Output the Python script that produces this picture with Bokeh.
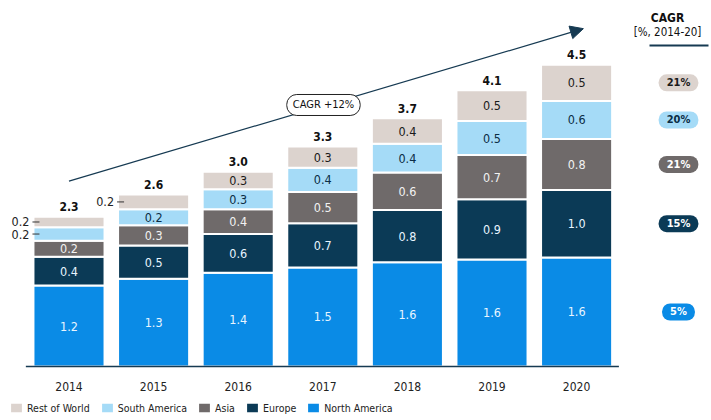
from bokeh.plotting import figure
from bokeh.models import (Range1d, Label, Arrow, NormalHead, Legend, LegendItem,
                          ColumnDataSource)
from bokeh.core.properties import value
from bokeh.embed import file_html
from bokeh.resources import INLINE

# ---------------- data ----------------
years = ["2014", "2015", "2016", "2017", "2018", "2019", "2020"]
north_america = [1.21, 1.31, 1.40, 1.48, 1.56, 1.60, 1.63]
europe = [0.43, 0.50, 0.58, 0.66, 0.78, 0.90, 1.01]
asia = [0.24, 0.30, 0.37, 0.47, 0.56, 0.66, 0.76]
south_america = [0.20, 0.24, 0.30, 0.36, 0.43, 0.51, 0.57]
rest_of_world = [0.16, 0.22, 0.26, 0.32, 0.38, 0.46, 0.54]
total_labels = ["2.3", "2.6", "3.0", "3.3", "3.7", "4.1", "4.5"]
series_names = ["North America", "Europe", "Asia", "South America", "Rest of World"]
cagr_labels = ["5%", "15%", "21%", "20%", "21%"]  # same order as series_names
overall_cagr = "CAGR +12%"

# ---------------- style ----------------
colors = ["#0a8be6", "#0b3a56", "#6f6a6a", "#a5dbf7", "#dcd3ce"]
inside_text = ["#e8f5ff", "#e8f5ff", "#f2f2f2", "#0b2d45", "#1a1a1a"]
pill_text = ["white", "white", "white", "#0b2d45", "#1a1a1a"]
NAVY = "#163a52"
FONTN = "DejaVu Sans Condensed, Liberation Sans, Arial, sans-serif"
FONT = value(FONTN)

PX_X, PX_Y = 84.6, 66.9          # pixels per data unit
OFF = 0                           # page offset of the figure
W, H = 711, 416
X0 = -(68.5 - OFF) / PX_X
Y_TOP = (366 - OFF) / PX_Y
BAR_W = 0.84
SMALL = 0.23                      # segments thinner than this get an outside label

def px_x(page_x):
    return X0 + (page_x - OFF) / PX_X

def px_y(page_y):
    return Y_TOP - (page_y - OFF) / PX_Y

p = figure(width=W, height=H, x_range=Range1d(X0, X0 + W / PX_X),
           y_range=Range1d(Y_TOP - H / PX_Y, Y_TOP),
           x_axis_type=None, y_axis_type=None,
           output_backend="svg", toolbar_location=None, min_border=0)
p.grid.visible = False
p.outline_line_color = None

keys = ["na", "eu", "as", "sa", "rw"]
series = [north_america, europe, asia, south_america, rest_of_world]
xs = list(range(len(years)))
src = ColumnDataSource(dict(x=xs, **{k: v for k, v in zip(keys, series)}))
rends = p.vbar_stack(keys, x="x", width=BAR_W, color=colors, source=src,
                     line_color="white", line_width=2)

# baseline
p.segment(x0=[-0.51], y0=[0], x1=[len(years) - 1 + 0.50], y1=[0],
          line_color=NAVY, line_width=1.5)

# segment labels
in_x, in_y, in_t, in_c = [], [], [], []
out_x, out_y, out_t = [], [], []
totals = []
for i in xs:
    bottom = 0.0
    for s, vals in enumerate(series):
        v = vals[i]
        mid = bottom + v / 2
        if v < SMALL:
            out_x.append(i - BAR_W / 2)
            out_y.append(mid)
            out_t.append(f"{v:.1f}")
        else:
            in_x.append(i)
            in_y.append(mid)
            in_t.append(f"{v:.1f}")
            in_c.append(inside_text[s])
        bottom += v
    totals.append(bottom)

p.text(x=in_x, y=in_y, text=in_t, text_color=in_c, text_font=FONT,
       text_font_size="12.5px", text_align="center", text_baseline="middle")
p.text(x=out_x, y=out_y, text=out_t, text_color="#222222", text_font=FONT,
       text_font_size="12.5px", text_align="right", text_baseline="middle", x_offset=-4)
p.segment(x0=[x - 1 / PX_X for x in out_x], y0=out_y,
          x1=[x + 6 / PX_X for x in out_x], y1=out_y,
          line_color="#333333", line_width=1)

# totals
p.text(x=xs, y=totals, text=total_labels, text_color="#111111", text_font=FONT,
       text_font_size="12px", text_font_style="bold", text_align="center",
       text_baseline="middle", y_offset=-10)

# years
p.text(x=xs, y=[px_y(386)] * len(xs), text=years, text_color="#222222", text_font=FONT,
       text_font_size="12px", text_align="center", text_baseline="middle")

# CAGR arrow
p.add_layout(Arrow(end=NormalHead(size=13, fill_color=NAVY, line_color=NAVY),
                   x_start=0.0, y_start=2.77, x_end=6.08, y_end=5.05,
                   line_color=NAVY, line_width=1.2))
p.add_layout(Label(x=3.008, y=3.909, text=overall_cagr, text_align="center",
                   text_baseline="middle", text_font=FONTN, text_font_size="11px",
                   text_color="#111111", background_fill_color="white",
                   border_line_color="#222222", border_line_width=1,
                   border_radius=10, padding=(6, 4)))

# CAGR column
p.add_layout(Label(x=px_x(667), y=px_y(17), text="CAGR", text_align="center",
                   text_baseline="middle", text_font=FONTN, text_font_size="12px",
                   text_font_style="bold", text_color="#111111"))
p.add_layout(Label(x=px_x(667), y=px_y(31), text="[%, 2014-20]", text_align="center",
                   text_baseline="middle", text_font=FONTN, text_font_size="11.5px",
                   text_color="#111111"))
p.segment(x0=[px_x(649)], y0=[px_y(45)], x1=[px_x(708)], y1=[px_y(45)],
          line_color=NAVY, line_width=2)

last = len(years) - 1
bottom = 0.0
for s, vals in enumerate(series):
    v = vals[last]
    p.add_layout(Label(x=px_x(678), y=bottom + v / 2, text=cagr_labels[s],
                       text_align="center", text_baseline="middle", text_font=FONTN,
                       text_font_size="11px", text_font_style="bold",
                       text_color=pill_text[s], background_fill_color=colors[s],
                       border_line_color=None, border_radius=8, padding=(8, 2)))
    bottom += v

# legend
items = [LegendItem(label=series_names[s], renderers=[rends[s]]) for s in range(4, -1, -1)]
legend = Legend(items=items, orientation="horizontal", location=(8, 2),
                glyph_width=16, glyph_height=13, label_standoff=3, spacing=9,
                padding=0, margin=0, border_line_color=None, background_fill_alpha=0,
                label_text_font=FONTN, label_text_font_size="10.5px",
                label_text_color="#222222", label_height=13)
p.add_layout(legend)

open("out.html", "w").write(file_html(p, INLINE))
